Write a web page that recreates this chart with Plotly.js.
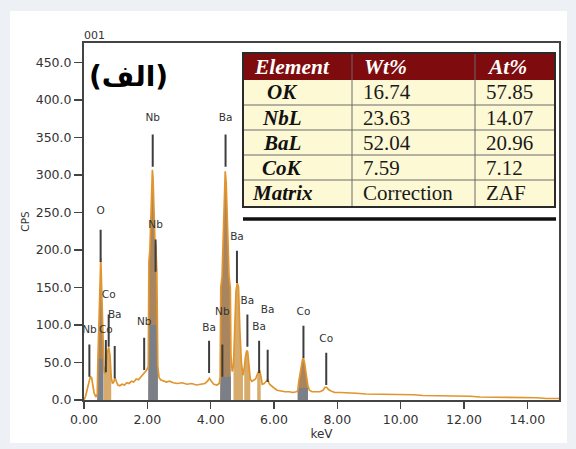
<!DOCTYPE html>
<html>
<head>
<meta charset="utf-8">
<script src="https://cdn.plot.ly/plotly-3.0.1.min.js"></script>
<style>
  html, body { margin: 0; padding: 0; background: #edf1f5; }
  #chart { width: 576px; height: 449px; }
</style>
</head>
<body>
<div id="chart"></div>
<script>
// EDS spectrum: energy (keV) and counts per second
const energy = [
  0.00, 0.05, 0.10, 0.15, 0.20, 0.24, 0.28, 0.32, 0.38, 0.42,
  0.44, 0.48, 0.51, 0.53, 0.55, 0.58, 0.61, 0.63, 0.66, 0.70,
  0.74, 0.78, 0.82, 0.86, 0.90, 0.94, 0.98, 1.02, 1.07, 1.13,
  1.20, 1.28, 1.35, 1.42, 1.50, 1.57, 1.65, 1.72, 1.80, 1.86,
  1.92, 1.98, 2.03, 2.05, 2.08, 2.11, 2.14, 2.16, 2.18, 2.21,
  2.24, 2.27, 2.30, 2.33, 2.37, 2.42, 2.50, 2.60, 2.70, 2.82,
  2.95, 3.10, 3.25, 3.40, 3.55, 3.70, 3.82, 3.90, 3.96, 4.02,
  4.10, 4.20, 4.27, 4.30, 4.32, 4.36, 4.40, 4.44, 4.46, 4.49,
  4.53, 4.58, 4.62, 4.64, 4.68, 4.72, 4.76, 4.80, 4.84, 4.88,
  4.92, 4.97, 5.02, 5.06, 5.10, 5.14, 5.17, 5.21, 5.25, 5.30,
  5.36, 5.42, 5.47, 5.51, 5.54, 5.58, 5.63, 5.69, 5.75, 5.80,
  5.86, 5.93, 6.00, 6.10, 6.22, 6.35, 6.48, 6.60, 6.70, 6.75,
  6.78, 6.84, 6.90, 6.93, 6.97, 7.02, 7.07, 7.12, 7.20, 7.32,
  7.45, 7.55, 7.61, 7.66, 7.72, 7.80, 7.92, 8.10, 8.35, 8.60,
  8.90, 9.20, 9.50, 9.80, 10.1, 10.4, 10.7, 11.0, 11.3, 11.6,
  11.9, 12.2, 12.5, 12.8, 13.1, 13.4, 13.7, 14.0, 14.3, 14.6,
  15.0
];
const counts = [
  0, 5, 14, 25, 31, 30, 21, 9, 4, 8,
  55, 110, 170, 189, 160, 100, 58, 40, 35, 52,
  64, 70, 60, 30, 22, 24, 30, 25, 20, 19,
  21, 20, 23, 22, 25, 24, 28, 27, 31, 33,
  37, 40, 45, 185, 200, 255, 298, 307, 296, 240,
  212, 205, 170, 45, 30, 27, 26, 24, 25, 23,
  22, 23, 21, 22, 20, 21, 22, 25, 29, 25,
  21, 20, 22, 30, 150, 165, 235, 298, 305, 290,
  228, 165, 150, 60, 38, 45, 95, 145, 156, 150,
  95, 50, 33, 42, 58, 66, 64, 45, 28, 25,
  26, 28, 34, 39, 40, 33, 21, 22, 25, 27,
  21, 18, 16, 13, 12, 11, 11, 10, 11, 12,
  24, 40, 54, 56, 48, 33, 19, 13, 11, 11,
  11, 13, 17, 17, 14, 12, 10, 10, 9, 9,
  8, 8, 8, 7, 7, 7, 6, 6, 6, 5,
  5, 5, 4, 4, 4, 4, 3, 3, 3, 2,
  2
];

// Element ROI windows (keV) with the grey integration band height (cps)
const roiLo = [0.42, 2.03, 4.30, 6.75];
const roiHi = [0.61, 2.33, 4.64, 7.07];
const roiGray = [55, 100, 31, 16];

// Other resolved peaks shaded outside the ROIs
const peakLo = [0.63, 4.72, 5.06, 5.47];
const peakHi = [0.86, 5.02, 5.25, 5.58];

// Line markers: energy, label, foot of the marker (cps), label height (cps)
const markerE     = [0.17, 0.69, 0.78, 0.525, 0.97, 1.90, 2.17, 2.26, 3.95, 4.37, 4.47, 4.83, 5.16, 5.53, 5.80, 6.93, 7.65];
const markerLabel = ['Nb', 'Co', 'Co', 'O', 'Ba', 'Nb', 'Nb', 'Nb', 'Ba', 'Nb', 'Ba', 'Ba', 'Ba', 'Ba', 'Ba', 'Co', 'Co'];
const markerFoot  = [31, 37, 71, 184, 29, 40, 311, 171, 36, 31, 311, 156, 71, 36, 24, 56, 20];
const markerText  = [93, 93, 139, 251, 113, 103, 376, 233, 96, 117, 376, 217, 131, 97, 120, 117, 81];
const markerLen = 43;

// Quantification table
const tableHead = ['Element', 'Wt%', 'At%'];
const elementNames = ['OK', 'NbL', 'BaL', 'CoK', 'Matrix'];
const wtPct = ['16.74', '23.63', '52.04', '7.59', 'Correction'];
const atPct = ['57.85', '14.07', '20.96', '7.12', 'ZAF'];

const yTicks = [0, 50, 100, 150, 200, 250, 300, 350, 400, 450];
const xTicks = [0, 2, 4, 6, 8, 10, 12, 14];

// ---- geometry helpers (pixel -> paper) ----
const W = 576, H = 449;
const M = { l: 84, r: 17, t: 43, b: 49 };
const PW = W - M.l - M.r, PH = H - M.t - M.b;
const PX = v => (v - M.l) / PW;
const PY = v => (H - M.b - v) / PH;

// Build filled polygons under the spectrum for a set of windows
function windowPolys(lo, hi, cap) {
  const xs = [], ys = [];
  lo.forEach((a, k) => {
    const b = hi[k];
    const idx = energy.map((e, i) => i).filter(i => energy[i] >= a && energy[i] <= b);
    xs.push(a); ys.push(0);
    idx.forEach(i => {
      xs.push(energy[i]);
      ys.push(cap ? Math.min(counts[i], cap[k]) : counts[i]);
    });
    xs.push(b); ys.push(0);
    xs.push(null); ys.push(null);
  });
  return { xs, ys };
}

const roiFill = windowPolys(roiLo, roiHi, null);
const peakFill = windowPolys(peakLo, peakHi, null);
const roiBand = windowPolys(roiLo, roiHi, roiGray);

// Marker segments
const mkX = [], mkY = [];
markerE.forEach((e, i) => {
  mkX.push(e, e, null);
  mkY.push(markerFoot[i], markerFoot[i] + markerLen, null);
});

const traces = [
  { x: peakFill.xs, y: peakFill.ys, type: 'scatter', mode: 'lines', fill: 'toself',
    fillcolor: '#d6ab6c', line: { width: 0 }, hoverinfo: 'skip' },
  { x: roiFill.xs, y: roiFill.ys, type: 'scatter', mode: 'lines', fill: 'toself',
    fillcolor: '#a8855e', line: { width: 0 }, hoverinfo: 'skip' },
  { x: roiBand.xs, y: roiBand.ys, type: 'scatter', mode: 'lines', fill: 'toself',
    fillcolor: '#7b7f88', line: { width: 0 }, hoverinfo: 'skip' },
  { x: energy, y: counts, type: 'scatter', mode: 'lines',
    line: { color: '#e0952f', width: 1.7 }, hoverinfo: 'skip' },
  { x: mkX, y: mkY, type: 'scatter', mode: 'lines',
    line: { color: '#3d3d3d', width: 2 }, hoverinfo: 'skip' },
  { x: markerE, y: markerText, type: 'scatter', mode: 'text', text: markerLabel,
    textposition: 'middle center', textfont: { family: 'DejaVu Sans', size: 10.5, color: '#333' },
    hoverinfo: 'skip' }
];

// Table: column edges and row edges in pixels
const colEdge = [243, 352, 475, 555];
const rowEdge = [53, 80, 105, 130, 155, 180, 207];

const shapes = [
  // white card behind everything
  { type: 'rect', xref: 'paper', yref: 'paper', x0: PX(10), x1: PX(567), y0: PY(443), y1: PY(11),
    fillcolor: '#ffffff', line: { width: 0 }, layer: 'below' },
  // header band
  { type: 'rect', xref: 'paper', yref: 'paper', x0: PX(colEdge[0]), x1: PX(colEdge[3]),
    y0: PY(rowEdge[1]), y1: PY(rowEdge[0]), fillcolor: '#7e0b0d', line: { width: 0 } },
  // body
  { type: 'rect', xref: 'paper', yref: 'paper', x0: PX(colEdge[0]), x1: PX(colEdge[3]),
    y0: PY(rowEdge[6]), y1: PY(rowEdge[1]), fillcolor: '#fdf9d4', line: { width: 0 } }
];
// row separators
for (let r = 2; r < rowEdge.length - 1; r++) {
  shapes.push({ type: 'line', xref: 'paper', yref: 'paper', x0: PX(colEdge[0]), x1: PX(colEdge[3]),
    y0: PY(rowEdge[r]), y1: PY(rowEdge[r]), line: { color: '#6a6a6a', width: 1 } });
}
// column separators
for (let c = 1; c < colEdge.length - 1; c++) {
  shapes.push({ type: 'line', xref: 'paper', yref: 'paper', x0: PX(colEdge[c]), x1: PX(colEdge[c]),
    y0: PY(rowEdge[6]), y1: PY(rowEdge[0]), line: { color: '#6a6a6a', width: 1 } });
}
// outer frame and the heavy rule under it
shapes.push({ type: 'rect', xref: 'paper', yref: 'paper', x0: PX(colEdge[0]), x1: PX(colEdge[3]),
  y0: PY(rowEdge[6]), y1: PY(rowEdge[0]), line: { color: '#2a2a2a', width: 2 } });
shapes.push({ type: 'line', xref: 'paper', yref: 'paper', x0: PX(colEdge[0]), x1: PX(colEdge[3] + 1),
  y0: PY(219), y1: PY(219), line: { color: '#111', width: 3.5 } });

const serif = 'Liberation Serif, Times New Roman, serif';
const annotations = [];
const headX = [292, 362, 485];
const headAnchor = ['center', 'left', 'left'];
tableHead.forEach((t, c) => {
  annotations.push({ xref: 'paper', yref: 'paper', x: PX(headX[c]), y: PY((rowEdge[0] + rowEdge[1]) / 2),
    xanchor: headAnchor[c], yanchor: 'middle', showarrow: false,
    text: '<b><i>' + t + '</i></b>', font: { family: serif, size: 21.5, color: '#ffffff' } });
});
elementNames.forEach((name, r) => {
  const yc = PY((rowEdge[r + 1] + rowEdge[r + 2]) / 2);
  annotations.push({ xref: 'paper', yref: 'paper', x: PX(282), y: yc, xanchor: 'center', yanchor: 'middle',
    showarrow: false, text: '<b><i>' + name + '</i></b>', font: { family: serif, size: 21, color: '#111' } });
  annotations.push({ xref: 'paper', yref: 'paper', x: PX(361), y: yc, xanchor: 'left', yanchor: 'middle',
    showarrow: false, text: wtPct[r], font: { family: serif, size: 21, color: '#1a1a1a' } });
  annotations.push({ xref: 'paper', yref: 'paper', x: PX(484), y: yc, xanchor: 'left', yanchor: 'middle',
    showarrow: false, text: atPct[r], font: { family: serif, size: 21, color: '#1a1a1a' } });
});
// panel tag and spectrum id
annotations.push({ xref: 'paper', yref: 'paper', x: PX(128), y: PY(76), xanchor: 'center', yanchor: 'middle',
  showarrow: false, text: '<b>(الف)</b>', font: { family: 'DejaVu Sans', size: 28, color: '#000' } });
annotations.push({ xref: 'paper', yref: 'paper', x: PX(82), y: PY(35), xanchor: 'left', yanchor: 'middle',
  showarrow: false, text: '001', font: { family: 'DejaVu Sans', size: 11, color: '#333' } });

const layout = {
  width: W, height: H,
  margin: M,
  paper_bgcolor: '#edf1f5',
  plot_bgcolor: '#ffffff',
  showlegend: false,
  xaxis: {
    range: [0, 15], tickvals: xTicks, tickformat: '.2f',
    ticks: 'outside', ticklen: 7, tickwidth: 1.5, tickcolor: '#444',
    showline: true, linecolor: '#444', linewidth: 2, mirror: true,
    showgrid: false, zeroline: false,
    tickfont: { family: 'DejaVu Sans', size: 12.5, color: '#333' },
    title: { text: 'keV', font: { family: 'DejaVu Sans', size: 12, color: '#333' }, standoff: 3 }
  },
  yaxis: {
    range: [0, 476], tickvals: yTicks, tickformat: '.1f',
    ticks: 'outside', ticklen: 8, tickwidth: 1.5, tickcolor: '#444',
    showline: true, linecolor: '#444', linewidth: 2, mirror: true,
    showgrid: false, zeroline: false,
    tickfont: { family: 'DejaVu Sans', size: 12.5, color: '#333' },
    title: { text: 'CPS', font: { family: 'DejaVu Sans', size: 10.5, color: '#333' }, standoff: 4 }
  },
  shapes: shapes,
  annotations: annotations
};

Plotly.newPlot('chart', traces, layout, { displayModeBar: false, staticPlot: true });
</script>
</body>
</html>
